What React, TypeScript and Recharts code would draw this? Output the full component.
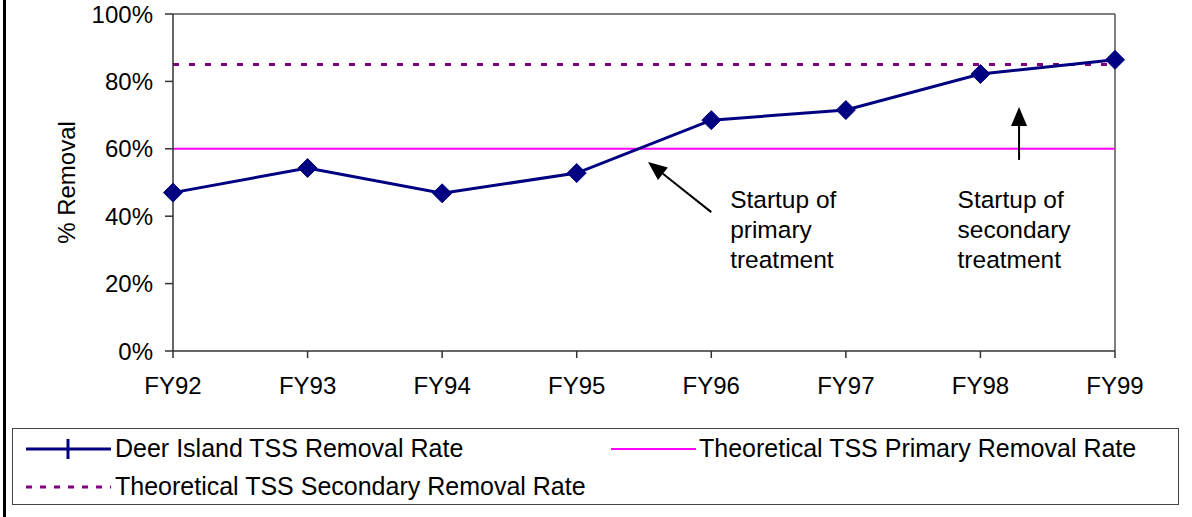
import React from "react";
import {
  LineChart,
  Line,
  XAxis,
  YAxis,
  ReferenceLine,
  ReferenceDot,
} from "recharts";

const categories = ["FY92", "FY93", "FY94", "FY95", "FY96", "FY97", "FY98", "FY99"];
const deerIsland = [0.47, 0.543, 0.468, 0.528, 0.685, 0.715, 0.822, 0.864];
const primaryRate = [0.6, 0.6, 0.6, 0.6, 0.6, 0.6, 0.6, 0.6];
const secondaryRate = [0.85, 0.85, 0.85, 0.85, 0.85, 0.85, 0.85, 0.85];
const yTicks = [0, 0.2, 0.4, 0.6, 0.8, 1.0];

const seriesNames = [
  "Deer Island TSS Removal Rate",
  "Theoretical TSS Primary Removal Rate",
  "Theoretical TSS Secondary Removal Rate",
];

const annotation1 = { text: ["Startup of", "primary", "treatment"], x: 4.14, y: 0.424 };
const annotation2 = { text: ["Startup of", "secondary", "treatment"], x: 5.83, y: 0.424 };
const arrow1 = { from: { x: 4.0, y: 0.412 }, to: { x: 3.53, y: 0.561 } };
const arrow2 = { from: { x: 6.287, y: 0.567 }, to: { x: 6.287, y: 0.724 } };

const data = categories.map((c, i) => ({
  i,
  name: c,
  deer: deerIsland[i],
  primary: primaryRate[i],
  secondary: secondaryRate[i],
}));

const FONT = '"Liberation Sans", Arial, sans-serif';
const FS = 24;
const FS_ANN = 24.5;
const FS_LEG = 25;

const Diamond = (props: any) => {
  const { cx, cy } = props;
  if (cx == null || cy == null) return null;
  const r = 9.5;
  return (
    <polygon
      points={`${cx},${cy - r} ${cx + r},${cy} ${cx},${cy + r} ${cx - r},${cy}`}
      fill="#000080"
      stroke="#000080"
    />
  );
};

const ArrowShape = (props: any) => {
  const { x1, y1, x2, y2 } = props;
  if ([x1, y1, x2, y2].some((v) => v == null || isNaN(v))) return null;
  const dx = x2 - x1;
  const dy = y2 - y1;
  const len = Math.sqrt(dx * dx + dy * dy);
  const ux = dx / len;
  const uy = dy / len;
  const hl = 19;
  const hw = 8;
  const bx = x2 - ux * hl;
  const by = y2 - uy * hl;
  const px = -uy;
  const py = ux;
  return (
    <g>
      <line x1={x1} y1={y1} x2={bx} y2={by} stroke="#000" strokeWidth={2} />
      <polygon
        points={`${x2},${y2} ${bx + px * hw},${by + py * hw} ${bx - px * hw},${by - py * hw}`}
        fill="#000"
      />
    </g>
  );
};

const TextBlock = (lines: string[]) => (props: any) => {
  const { cx, cy } = props;
  if (cx == null || cy == null) return null;
  return (
    <text x={cx} y={cy} fontFamily={FONT} fontSize={FS_ANN} fill="#000">
      {lines.map((l, k) => (
        <tspan key={k} x={cx} y={cy + k * 30}>
          {l}
        </tspan>
      ))}
    </text>
  );
};

export default function App() {
  return (
    <div
      style={{
        position: "absolute",
        left: 0,
        top: 0,
        width: 1192,
        height: 517,
        background: "#fff",
        fontFamily: FONT,
      }}
    >
      <div
        style={{
          position: "absolute",
          left: 3,
          top: 0,
          width: 3,
          height: 517,
          background: "#000",
        }}
      />
      <LineChart
        width={1192}
        height={517}
        data={data}
        margin={{ top: 14, right: 77, left: 0, bottom: 126 }}
      >
        <XAxis
          dataKey="i"
          type="number"
          domain={[0, 7]}
          ticks={[0, 1, 2, 3, 4, 5, 6, 7]}
          tickFormatter={(v: number) => categories[v]}
          height={40}
          tickSize={7}
          tickMargin={19}
          stroke="#333"
          tick={{ fill: "#000", fontSize: FS, fontFamily: FONT }}
          axisLine={{ stroke: "#333", strokeWidth: 1.5 }}
          tickLine={{ stroke: "#333", strokeWidth: 1.5 }}
        />
        <YAxis
          type="number"
          domain={[0, 1]}
          ticks={yTicks}
          width={173}
          tickSize={8}
          tickMargin={12}
          tickFormatter={(v: number) => `${Math.round(v * 100)}%`}
          tick={{ fill: "#000", fontSize: FS, fontFamily: FONT }}
          axisLine={{ stroke: "#333", strokeWidth: 1.5 }}
          tickLine={{ stroke: "#333", strokeWidth: 1.5 }}
          label={{
            value: "% Removal",
            angle: -90,
            position: "center",
            dx: -20,
            style: { fill: "#000", fontSize: FS, fontFamily: FONT },
          }}
        />
        <ReferenceLine y={1} stroke="#555" strokeWidth={1.5} />
        <ReferenceLine x={7} stroke="#555" strokeWidth={1.5} />
        <Line
          dataKey="primary"
          name={seriesNames[1]}
          stroke="#FF00FF"
          strokeWidth={2}
          dot={false}
          isAnimationActive={false}
        />
        <Line
          dataKey="secondary"
          name={seriesNames[2]}
          stroke="#800080"
          strokeWidth={3}
          strokeDasharray="6 10"
          dot={false}
          isAnimationActive={false}
        />
        <Line
          dataKey="deer"
          name={seriesNames[0]}
          stroke="#000080"
          strokeWidth={3}
          dot={<Diamond />}
          isAnimationActive={false}
        />
        <ReferenceLine
          segment={[arrow1.from, arrow1.to]}
          shape={ArrowShape}
          ifOverflow="visible"
        />
        <ReferenceLine
          segment={[arrow2.from, arrow2.to]}
          shape={ArrowShape}
          ifOverflow="visible"
        />
        <ReferenceDot
          x={annotation1.x}
          y={annotation1.y}
          r={0}
          shape={TextBlock(annotation1.text)}
          ifOverflow="visible"
        />
        <ReferenceDot
          x={annotation2.x}
          y={annotation2.y}
          r={0}
          shape={TextBlock(annotation2.text)}
          ifOverflow="visible"
        />
      </LineChart>
      <div
        style={{
          position: "absolute",
          left: 12,
          top: 428,
          width: 1165,
          height: 75,
          border: "1px solid #444",
          fontFamily: FONT,
          fontSize: FS_LEG,
          color: "#000",
        }}
      >
        <div style={{ position: "absolute", left: 12, top: 5, display: "flex", alignItems: "center" }}>
          <svg width={87} height={26}>
            <line x1={1} y1={13} x2={86} y2={13} stroke="#000080" strokeWidth={3} />
            <line x1={43} y1={3} x2={43} y2={23} stroke="#000080" strokeWidth={3} />
          </svg>
          <span style={{ marginLeft: 3 }}>{seriesNames[0]}</span>
        </div>
        <div style={{ position: "absolute", left: 597, top: 5, display: "flex", alignItems: "center" }}>
          <svg width={87} height={26}>
            <line x1={1} y1={13} x2={86} y2={13} stroke="#FF00FF" strokeWidth={2} />
          </svg>
          <span style={{ marginLeft: 2 }}>{seriesNames[1]}</span>
        </div>
        <div style={{ position: "absolute", left: 12, top: 43, display: "flex", alignItems: "center" }}>
          <svg width={87} height={26}>
            <line x1={1} y1={13} x2={86} y2={13} stroke="#800080" strokeWidth={3} strokeDasharray="6 8" />
          </svg>
          <span style={{ marginLeft: 3 }}>{seriesNames[2]}</span>
        </div>
      </div>
    </div>
  );
}
